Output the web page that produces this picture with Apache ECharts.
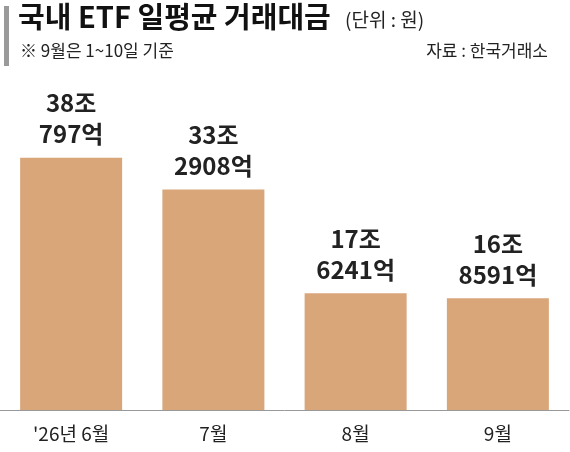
<!DOCTYPE html>
<html><head><meta charset="utf-8">
<script src="https://cdn.jsdelivr.net/npm/echarts@6/dist/echarts.min.js"></script>
<style>body{margin:0;background:#fff}#c{width:570px;height:452px}</style>
</head><body><div id="c"></div>
<script>
const categories = ["'26년 6월", "7월", "8월", "9월"];
const values = [38.0797, 33.2908, 17.6241, 16.8591];
const labels = ["38조\n797억", "33조\n2908억", "17조\n6241억", "16조\n8591억"];
const chart = echarts.init(document.getElementById('c'));
const F = '"Noto Sans CJK KR", sans-serif';
chart.setOption({
  animation: false,
  graphic: [
    {type:'rect', shape:{x:4,y:6,width:5,height:60}, style:{fill:'#9a9a9a'}},
    {type:'text', left:18, top:2, style:{text:'국내 ETF 일평균 거래대금', font:'bold 29px '+F, fill:'#111'}},
    {type:'text', left:345, top:10, style:{text:'(단위 : 원)', font:'19px '+F, fill:'#222'}},
    {type:'text', left:20, top:42, style:{text:'※ 9월은 1~10일 기준', font:'17px '+F, fill:'#222'}},
    {type:'text', right:22, top:42, style:{text:'자료 : 한국거래소', font:'17px '+F, fill:'#222'}}
  ],
  grid: {left:0, right:1, top:100, bottom:42},
  xAxis: {type:'category', data:categories,
    axisLine:{lineStyle:{color:'#999',width:1}}, axisTick:{show:false},
    axisLabel:{fontFamily:F, fontSize:19, color:'#222', margin:14}},
  yAxis: {type:'value', min:0, max:46.8, show:false, splitLine:{show:false}},
  series: [{type:'bar', data:values, barWidth:102,
    itemStyle:{color:'#D8A679'},
    label:{show:true, position:'top', distance:8, fontFamily:F, fontWeight:'bold', fontSize:24, lineHeight:31, color:'#222',
      formatter: p => labels[p.dataIndex]}}]
});
</script></body></html>
